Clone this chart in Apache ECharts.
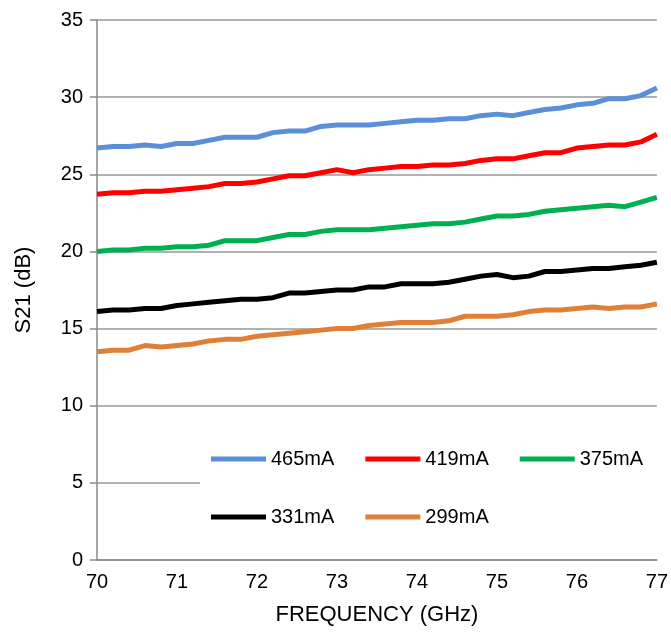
<!DOCTYPE html>
<html>
<head>
<meta charset="utf-8">
<script src="https://cdn.jsdelivr.net/npm/echarts@6/dist/echarts.min.js"></script>
<style>html,body{margin:0;padding:0;background:#fff}#main{width:671px;height:641px}</style>
</head>
<body>
<div id="main"></div>
<script>
// frequency points, 70..77 GHz step 0.2
var freq = [70,70.2,70.4,70.6,70.8,71,71.2,71.4,71.6,71.8,72,72.2,72.4,72.6,72.8,73,73.2,73.4,73.6,73.8,74,74.2,74.4,74.6,74.8,75,75.2,75.4,75.6,75.8,76,76.2,76.4,76.6,76.8,77];
var names = ['465mA','419mA','375mA','331mA','299mA'];
var colors = ['#5b8fd9','#ff0000','#00b050','#000000','#e07f36'];
var s465 = [26.7,26.8,26.8,26.9,26.8,27.0,27.0,27.2,27.4,27.4,27.4,27.7,27.8,27.8,28.1,28.2,28.2,28.2,28.3,28.4,28.5,28.5,28.6,28.6,28.8,28.9,28.8,29.0,29.2,29.3,29.5,29.6,29.9,29.9,30.1,30.6];
var s419 = [23.7,23.8,23.8,23.9,23.9,24.0,24.1,24.2,24.4,24.4,24.5,24.7,24.9,24.9,25.1,25.3,25.1,25.3,25.4,25.5,25.5,25.6,25.6,25.7,25.9,26.0,26.0,26.2,26.4,26.4,26.7,26.8,26.9,26.9,27.1,27.6];
var s375 = [20.0,20.1,20.1,20.2,20.2,20.3,20.3,20.4,20.7,20.7,20.7,20.9,21.1,21.1,21.3,21.4,21.4,21.4,21.5,21.6,21.7,21.8,21.8,21.9,22.1,22.3,22.3,22.4,22.6,22.7,22.8,22.9,23.0,22.9,23.2,23.5];
var s331 = [16.1,16.2,16.2,16.3,16.3,16.5,16.6,16.7,16.8,16.9,16.9,17.0,17.3,17.3,17.4,17.5,17.5,17.7,17.7,17.9,17.9,17.9,18.0,18.2,18.4,18.5,18.3,18.4,18.7,18.7,18.8,18.9,18.9,19.0,19.1,19.3];
var s299 = [13.5,13.6,13.6,13.9,13.8,13.9,14.0,14.2,14.3,14.3,14.5,14.6,14.7,14.8,14.9,15.0,15.0,15.2,15.3,15.4,15.4,15.4,15.5,15.8,15.8,15.8,15.9,16.1,16.2,16.2,16.3,16.4,16.3,16.4,16.4,16.6];
var allSeries = [s465,s419,s375,s331,s299];

var chart = echarts.init(document.getElementById('main'));
var font = 'Liberation Sans, Arial, sans-serif';

var series = [];
for (var i = 0; i < names.length; i++) {
    var d = [];
    for (var j = 0; j < freq.length; j++) d.push([freq[j], allSeries[i][j]]);
    series.push({
        name: names[i], type: 'line', data: d, symbol: 'none',
        lineStyle: {width: 5, color: colors[i]}, itemStyle: {color: colors[i]}
    });
}

var legendCommon = {
    left: 206, itemWidth: 55, itemHeight: 5, itemGap: 31,
    icon: 'rect',
    textStyle: {fontFamily: font, fontSize: 20, color: '#000'}
};

chart.setOption({
    animation: false,
    backgroundColor: '#fff',
    grid: {left: 97, right: 14, top: 20, bottom: 81},
    xAxis: {
        type: 'value', min: 70, max: 77, interval: 1,
        name: 'FREQUENCY (GHz)', nameLocation: 'middle', nameGap: 44,
        nameTextStyle: {fontFamily: font, fontSize: 22, color: '#000'},
        axisLine: {lineStyle: {color: '#888', width: 1.5}},
        axisTick: {show: false},
        axisLabel: {fontFamily: font, fontSize: 20, color: '#000', margin: 12},
        splitLine: {show: false}
    },
    yAxis: {
        type: 'value', min: 0, max: 35, interval: 5,
        name: 'S21 (dB)', nameLocation: 'middle', nameGap: 62,
        nameTextStyle: {fontFamily: font, fontSize: 22, color: '#000'},
        axisLine: {show: true, lineStyle: {color: '#888', width: 1.5}},
        axisTick: {show: true, length: 7, lineStyle: {color: '#888', width: 1.5}},
        axisLabel: {fontFamily: font, fontSize: 20, color: '#000', margin: 14},
        splitLine: {lineStyle: {color: '#999', width: 1.5}}
    },
    graphic: [{
        type: 'rect', z: 3, left: 200, top: 432,
        shape: {width: 460, height: 100}, style: {fill: '#fff'}
    }],
    legend: [
        Object.assign({top: 444, data: names.slice(0, 3), z: 5}, legendCommon),
        Object.assign({top: 502, data: names.slice(3), z: 5}, legendCommon)
    ],
    series: series
});
</script>
</body>
</html>
